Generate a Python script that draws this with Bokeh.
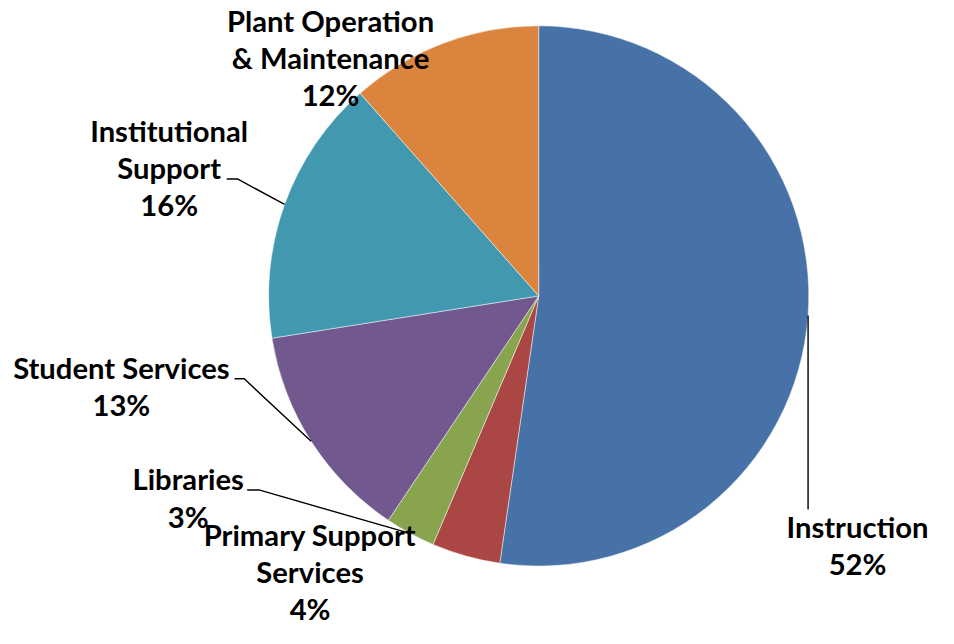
import math
from bokeh.plotting import figure
from bokeh.models import Range1d, ColumnDataSource
from bokeh.core.properties import value
from bokeh.embed import file_html
from bokeh.resources import INLINE

# ---- data ----
categories = ["Instruction", "Primary Support Services", "Libraries",
              "Student Services", "Institutional Support",
              "Plant Operation & Maintenance"]
label_lines = [["Instruction"], ["Primary Support", "Services"], ["Libraries"],
               ["Student Services"], ["Institutional", "Support"],
               ["Plant Operation", "& Maintenance"]]
shares = [52.3, 4.1, 3.0, 13.1, 16.0, 11.5]
colors = ["#4672A8", "#AA4744", "#88A44F", "#71588F", "#4298AF", "#DB843D"]

# ---- layout (reference pixels, scaled by S to fit the window) ----
W, H = 938, 628
S = 0.975
CX, CY, R = 552 * S, 303 * S, 277 * S
label_anchor = [(879, 551), (317.5, 559), (192.5, 502), (124, 388), (173, 145), (338.5, 32)]
leader_tail = [[(None, 522)], None, [(265, 502), (253, 502)], [(250, 388), (240, 388)],
               [(243, 183), (232, 183)], None]
LINE_H = 38.0 * S
TEXT_SHIFT = -11  # renderer baseline correction (px)
FONT = "Lato"
FSIZE = f"{30 * S:.1f}px"


def to_data(x, y):
    return (x * S - CX) / R, (CY - y * S) / R


p = figure(width=W, height=H, output_backend="svg", toolbar_location=None,
           x_range=Range1d(-CX / R, (W - CX) / R), y_range=Range1d(-(H - CY) / R, CY / R),
           min_border=0, outline_line_color=None)
p.axis.visible = False
p.grid.visible = False
p.background_fill_color = "white"
p.border_fill_color = "white"

total = sum(shares)
starts, ends, mids = [], [], []
cum = 0.0
for s in shares:
    a0 = math.pi / 2 - cum / total * 2 * math.pi
    cum += s
    a1 = math.pi / 2 - cum / total * 2 * math.pi
    starts.append(a0)
    ends.append(a1)
    mids.append((a0 + a1) / 2)

src = ColumnDataSource(dict(start=starts, end=ends, color=colors, cat=categories))
p.wedge(x=0, y=0, radius=1, start_angle="start", end_angle="end", direction="clock",
        fill_color="color", line_color="white", line_alpha=0.6, line_width=0.8, source=src)

# leader lines
for i, tail in enumerate(leader_tail):
    if tail is None:
        continue
    mx, my = math.cos(mids[i]), math.sin(mids[i])
    xs, ys = [mx], [my]
    for (tx, ty) in tail:
        dx, dy = to_data(tx if tx is not None else 0, ty)
        if tx is None:
            dx = mx
        xs.append(dx)
        ys.append(dy)
    p.line(xs, ys, line_color="black", line_width=1.4)

# labels
tx, ty, tt, toff = [], [], [], []
for i, lines in enumerate(label_lines):
    allines = lines + [f"{int(shares[i] + 0.5)}%"]
    ax, ay = to_data(*label_anchor[i])
    for j, t in enumerate(allines):
        tx.append(ax)
        ty.append(ay)
        tt.append(t)
        toff.append(j * LINE_H + TEXT_SHIFT)
lsrc = ColumnDataSource(dict(x=tx, y=ty, text=tt, yo=toff))
p.text(x="x", y="y", text="text", y_offset="yo", source=lsrc,
       text_font=value(FONT), text_font_size=FSIZE, text_font_style="bold",
       text_align="center", text_baseline="alphabetic", text_color="black")

open("out.html", "w").write(file_html(p, INLINE))
